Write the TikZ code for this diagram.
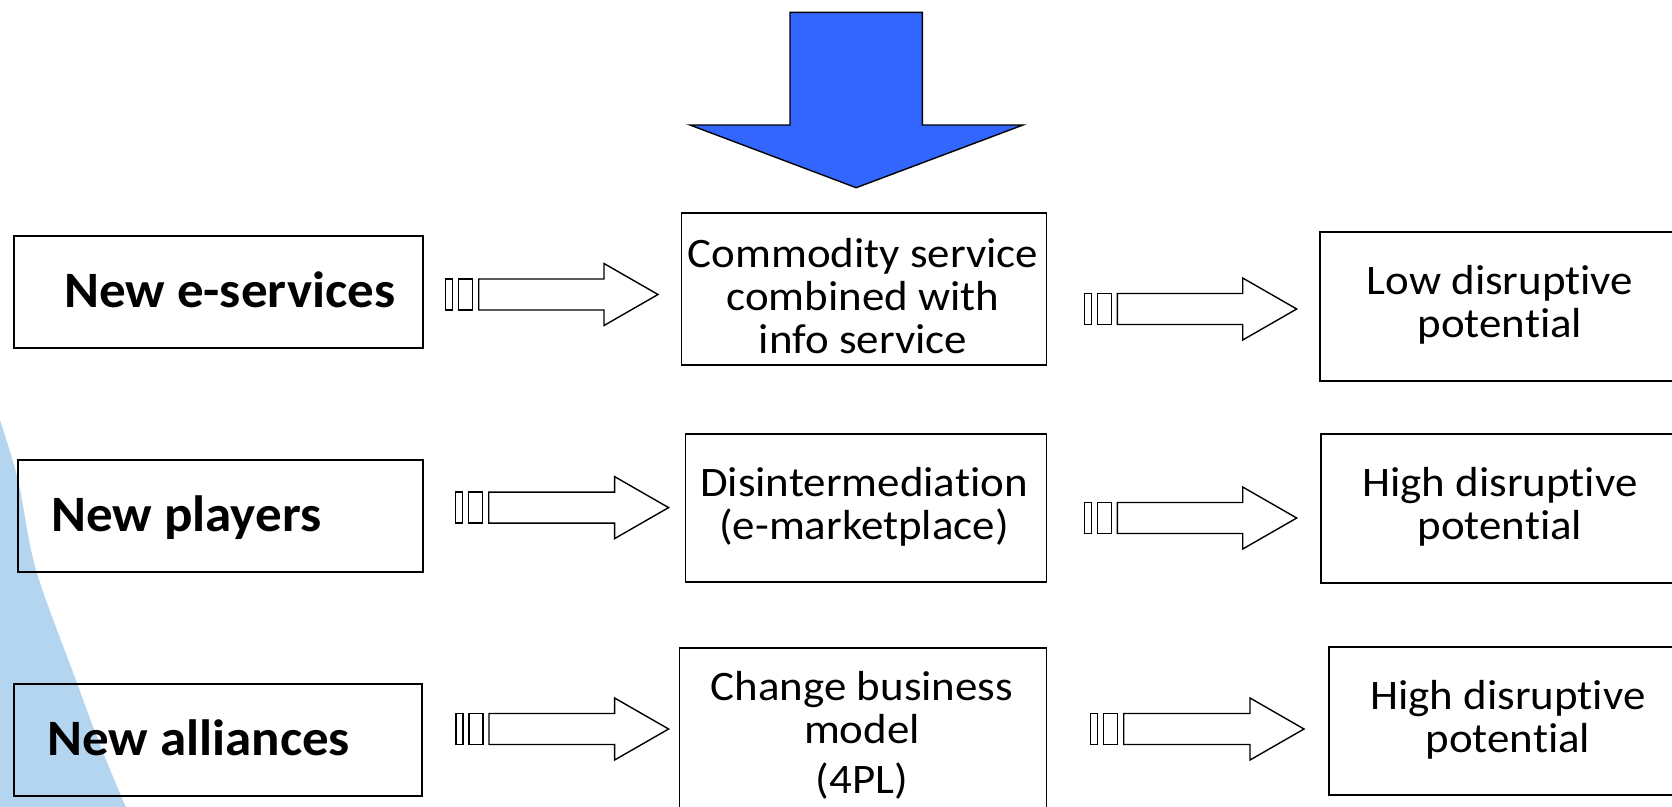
\documentclass[tikz,border=0pt]{standalone}
\usepackage{fontspec}
\setmainfont{Carlito}
\newfontfamily\regfont{Carlito}[FakeStretch=1.07, Ligatures=NoCommon]
\newfontfamily\lblfont{Carlito}[FakeStretch=1.04, Ligatures=NoCommon]
\definecolor{arrowblue}{RGB}{51,102,255}
\definecolor{bgblue}{RGB}{180,213,240}
\tikzset{
  box/.style={draw=black, line width=1.6pt, inner sep=0pt, anchor=north west},
  boldlbl/.style={font=\lblfont\fontsize{51}{60}\selectfont\bfseries, inner sep=0pt, anchor=base west},
  txt/.style={font=\regfont\fontsize{42}{43}\selectfont, inner sep=0pt, anchor=base},
  blockarrow/.style={draw=black, line width=1.4pt, fill=white, line join=miter},
}
\newcommand{\stripedarrow}[4]{% #1 name, #2 start x, #3 centre y, #4 tip x
  \begin{scope}[shift={(#2,#3)}]
    \pgfmathsetmacro\myarrlen{#4-#2}
    \draw[blockarrow] (0,-15.5) rectangle (7,15.5);
    \draw[blockarrow] (13,-15.5) rectangle (27,15.5);
    \draw[blockarrow] (33,-15.5) -- (\myarrlen-54,-15.5) -- (\myarrlen-54,-31)
      -- (\myarrlen,0) -- (\myarrlen-54,31) -- (\myarrlen-54,15.5) -- (33,15.5) -- cycle;
    \coordinate (#1) at (\myarrlen,0);
  \end{scope}}
\begin{document}
\begin{tikzpicture}[x=1pt,y=-1pt]
\useasboundingbox (0,0) rectangle (1672,806);
\clip (0,0) rectangle (1672,806);
\fill[white] (0,0) rectangle (1672,806);
% background swoosh
\fill[bgblue] plot[smooth] coordinates {(0,420) (18,480) (36,570) (77,683) (100,745) (127,810)} -- (0,810) -- cycle;
% top blue arrow
\draw[fill=arrowblue, draw=black, line width=1.4pt, line join=miter]
  (790,12.3) -- (922.3,12.3) -- (922.3,125) -- (1023,125) -- (856.2,187.7)
  -- (690,125) -- (790,125) -- cycle;
% left boxes
\node[box, minimum width=409pt, minimum height=112pt] (l1) at (13,235) {};
\node[box, minimum width=405pt, minimum height=112pt] (l2) at (17,459) {};
\node[box, minimum width=408pt, minimum height=112pt] (l3) at (13,683) {};
\node[boldlbl] (l1t) at (64,307.5) {New e-services};
\node[boldlbl] (l2t) at (51,531.5) {New players};
\node[boldlbl] (l3t) at (47,755.5) {New alliances};
% middle boxes
\node[box, minimum width=365pt, minimum height=152pt] (m1) at (680.5,212) {};
\node[box, minimum width=361pt, minimum height=148pt] (m2) at (684.5,433) {};
\node[box, minimum width=367pt, minimum height=190pt] (m3) at (678.5,647) {};
\node[txt] (m1a) at (863,267) {Commodity service};
\node[txt] (m1b) at (863,310) {combined with};
\node[txt] (m1c) at (863,353) {info service};
\node[txt] (m2a) at (864,496.5) {Disintermediation};
\node[txt] (m2b) at (864,539.5) {(e-marketplace)};
\node[txt] (m3a) at (862,700) {Change business};
\node[txt] (m3b) at (862,743) {model};
\node[txt] (m3c) at (862,793) {(4PL)};
% right boxes
\node[box, minimum width=362pt, minimum height=149pt] (r1) at (1319,231) {};
\node[box, minimum width=361pt, minimum height=149pt] (r2) at (1320,433) {};
\node[box, minimum width=361pt, minimum height=148pt] (r3) at (1328,646) {};
\node[txt] (r1a) at (1500,294.5) {Low disruptive};
\node[txt] (r1b) at (1500,337.5) {potential};
\node[txt] (r2a) at (1500,496.5) {High disruptive};
\node[txt] (r2b) at (1500,539.5) {potential};
\node[txt] (r3a) at (1508,709.5) {High disruptive};
\node[txt] (r3b) at (1508,752.5) {potential};
% striped arrows
\stripedarrow{a1}{445.7}{294.5}{658}
\stripedarrow{a2}{455.7}{507.6}{668.6}
\stripedarrow{a3}{456}{729}{668.6}
\stripedarrow{b1}{1084.3}{309}{1296.7}
\stripedarrow{b2}{1084.3}{518}{1296.7}
\stripedarrow{b3}{1090.7}{729}{1304}
\end{tikzpicture}
\end{document}
